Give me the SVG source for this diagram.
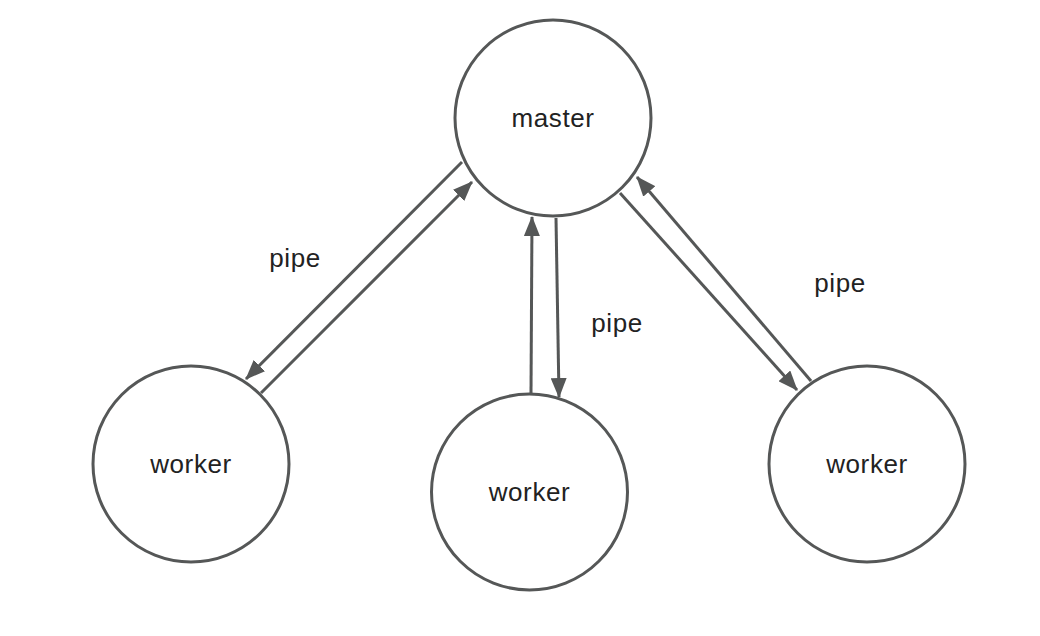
<svg xmlns="http://www.w3.org/2000/svg" width="1040" height="636" viewBox="0 0 1040 636">
<style>
.node{fill:#fff;stroke:#555757;stroke-width:3}
.lbl{font-family:"Liberation Sans",Arial,sans-serif;font-size:26px;letter-spacing:0.6px;fill:#222;text-anchor:middle}
.edge{stroke:#555757;stroke-width:3;fill:none}
</style>
<defs>
<marker id="ah" viewBox="0 0 20 16" refX="19" refY="8" markerWidth="20" markerHeight="16" markerUnits="userSpaceOnUse" orient="auto">
<path d="M0,0 L20,8 L0,16 Z" fill="#555757"/>
</marker>
</defs>
<rect width="1040" height="636" fill="#fff"/>
<g id="master"><circle class="node" cx="553" cy="118" r="98"/><text class="lbl" x="553" y="127">master</text></g>
<g id="worker-left"><circle class="node" cx="191" cy="464" r="98"/><text class="lbl" x="191" y="473">worker</text></g>
<g id="worker-middle"><circle class="node" cx="529.5" cy="492" r="98"/><text class="lbl" x="529.5" y="501">worker</text></g>
<g id="worker-right"><circle class="node" cx="867" cy="464" r="98"/><text class="lbl" x="867" y="473">worker</text></g>
<g id="connectors">
<line class="edge" x1="462" y1="162" x2="246" y2="379" marker-end="url(#ah)"/>
<line class="edge" x1="261" y1="393" x2="472" y2="182" marker-end="url(#ah)"/>
<line class="edge" x1="531" y1="393" x2="532" y2="217" marker-end="url(#ah)"/>
<line class="edge" x1="556" y1="218" x2="559" y2="397" marker-end="url(#ah)"/>
<line class="edge" x1="620" y1="193" x2="797" y2="390" marker-end="url(#ah)"/>
<line class="edge" x1="811" y1="381" x2="637" y2="177" marker-end="url(#ah)"/>
</g>
<g id="edge-labels">
<text class="lbl" x="295" y="267">pipe</text>
<text class="lbl" x="617" y="332">pipe</text>
<text class="lbl" x="840" y="292">pipe</text>
</g>
</svg>
